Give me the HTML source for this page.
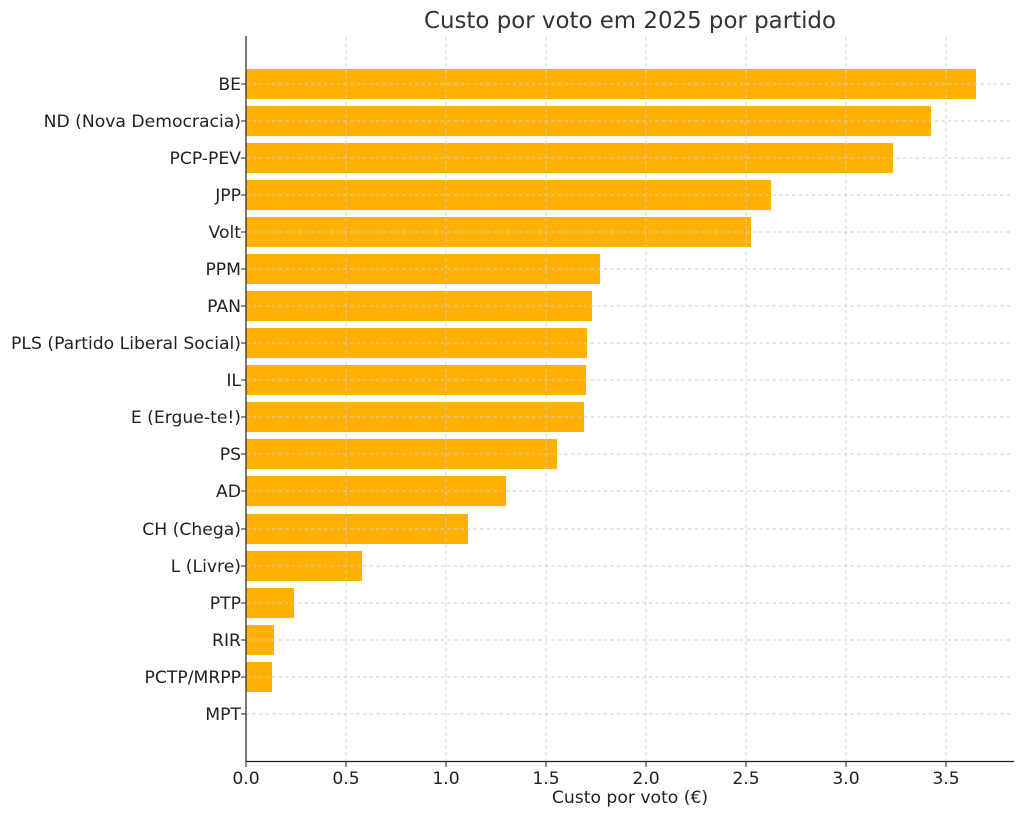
<!DOCTYPE html>
<html><head><meta charset="utf-8"><style>
html,body{margin:0;padding:0;background:#fff}
svg{display:block;font-family:"DejaVu Sans","Liberation Sans",sans-serif}
</style></head><body>
<svg width="1024" height="817" viewBox="0 0 1024 817" xmlns="http://www.w3.org/2000/svg">
<text x="630" y="28" font-size="22.9" fill="#333" text-anchor="middle">Custo por voto em 2025 por partido</text>
<g fill="#FFB000">
<rect x="246" y="69" width="730" height="30"/>
<rect x="246" y="106" width="685" height="30"/>
<rect x="246" y="143" width="647" height="30"/>
<rect x="246" y="180" width="525" height="30"/>
<rect x="246" y="217" width="505" height="30"/>
<rect x="246" y="254" width="354" height="30"/>
<rect x="246" y="291" width="346" height="30"/>
<rect x="246" y="328" width="341" height="30"/>
<rect x="246" y="365" width="340" height="30"/>
<rect x="246" y="402" width="338" height="30"/>
<rect x="246" y="439" width="311" height="30"/>
<rect x="246" y="476" width="260" height="30"/>
<rect x="246" y="514" width="222" height="30"/>
<rect x="246" y="551" width="116" height="30"/>
<rect x="246" y="588" width="48" height="30"/>
<rect x="246" y="625" width="28" height="30"/>
<rect x="246" y="662" width="26" height="30"/>
</g>
<g stroke="#cfcfcf" stroke-width="0.9" stroke-dasharray="3.5,3">
<line x1="346" y1="37" x2="346" y2="761"/><line x1="446" y1="37" x2="446" y2="761"/>
<line x1="546" y1="37" x2="546" y2="761"/><line x1="646" y1="37" x2="646" y2="761"/>
<line x1="746" y1="37" x2="746" y2="761"/><line x1="846" y1="37" x2="846" y2="761"/>
<line x1="946" y1="37" x2="946" y2="761"/>
<line x1="246" y1="84" x2="1013" y2="84"/><line x1="246" y1="121" x2="1013" y2="121"/>
<line x1="246" y1="158" x2="1013" y2="158"/><line x1="246" y1="195" x2="1013" y2="195"/>
<line x1="246" y1="232" x2="1013" y2="232"/><line x1="246" y1="269" x2="1013" y2="269"/>
<line x1="246" y1="306" x2="1013" y2="306"/><line x1="246" y1="343" x2="1013" y2="343"/>
<line x1="246" y1="380" x2="1013" y2="380"/><line x1="246" y1="417" x2="1013" y2="417"/>
<line x1="246" y1="454" x2="1013" y2="454"/><line x1="246" y1="491" x2="1013" y2="491"/>
<line x1="246" y1="529" x2="1013" y2="529"/><line x1="246" y1="566" x2="1013" y2="566"/>
<line x1="246" y1="603" x2="1013" y2="603"/><line x1="246" y1="640" x2="1013" y2="640"/>
<line x1="246" y1="677" x2="1013" y2="677"/><line x1="246" y1="714" x2="1013" y2="714"/>
</g>
<g stroke="#222" stroke-width="1.2">
<line x1="246" y1="36" x2="246" y2="762"/>
<line x1="245.5" y1="761.5" x2="1014" y2="761.5"/>
</g>
<g stroke="#222" stroke-width="1">
<line x1="241" y1="84" x2="246" y2="84"/><line x1="241" y1="121" x2="246" y2="121"/><line x1="241" y1="158" x2="246" y2="158"/><line x1="241" y1="195" x2="246" y2="195"/><line x1="241" y1="232" x2="246" y2="232"/><line x1="241" y1="269" x2="246" y2="269"/><line x1="241" y1="306" x2="246" y2="306"/><line x1="241" y1="343" x2="246" y2="343"/><line x1="241" y1="380" x2="246" y2="380"/><line x1="241" y1="417" x2="246" y2="417"/><line x1="241" y1="454" x2="246" y2="454"/><line x1="241" y1="491" x2="246" y2="491"/><line x1="241" y1="529" x2="246" y2="529"/><line x1="241" y1="566" x2="246" y2="566"/><line x1="241" y1="603" x2="246" y2="603"/><line x1="241" y1="640" x2="246" y2="640"/><line x1="241" y1="677" x2="246" y2="677"/><line x1="241" y1="714" x2="246" y2="714"/>
<line x1="246" y1="762" x2="246" y2="767"/><line x1="346" y1="762" x2="346" y2="767"/><line x1="446" y1="762" x2="446" y2="767"/><line x1="546" y1="762" x2="546" y2="767"/><line x1="646" y1="762" x2="646" y2="767"/><line x1="746" y1="762" x2="746" y2="767"/><line x1="846" y1="762" x2="846" y2="767"/><line x1="946" y1="762" x2="946" y2="767"/>
</g>
<g font-size="17.2" fill="#222" text-anchor="end">
<text x="241" y="90">BE</text><text x="241" y="127">ND (Nova Democracia)</text><text x="241" y="164">PCP-PEV</text><text x="241" y="201">JPP</text><text x="241" y="238">Volt</text><text x="241" y="275">PPM</text><text x="241" y="312">PAN</text><text x="241" y="349">PLS (Partido Liberal Social)</text><text x="241" y="386">IL</text><text x="241" y="423">E (Ergue-te!)</text><text x="241" y="460">PS</text><text x="241" y="497">AD</text><text x="241" y="535">CH (Chega)</text><text x="241" y="572">L (Livre)</text><text x="241" y="609">PTP</text><text x="241" y="646">RIR</text><text x="241" y="683">PCTP/MRPP</text><text x="241" y="720">MPT</text>
</g>
<g font-size="17.2" fill="#222" text-anchor="middle">
<text x="246" y="784">0.0</text><text x="346" y="784">0.5</text><text x="446" y="784">1.0</text><text x="546" y="784">1.5</text><text x="646" y="784">2.0</text><text x="746" y="784">2.5</text><text x="846" y="784">3.0</text><text x="946" y="784">3.5</text>
<text x="630" y="803">Custo por voto (€)</text>
</g>
</svg>
</body></html>
